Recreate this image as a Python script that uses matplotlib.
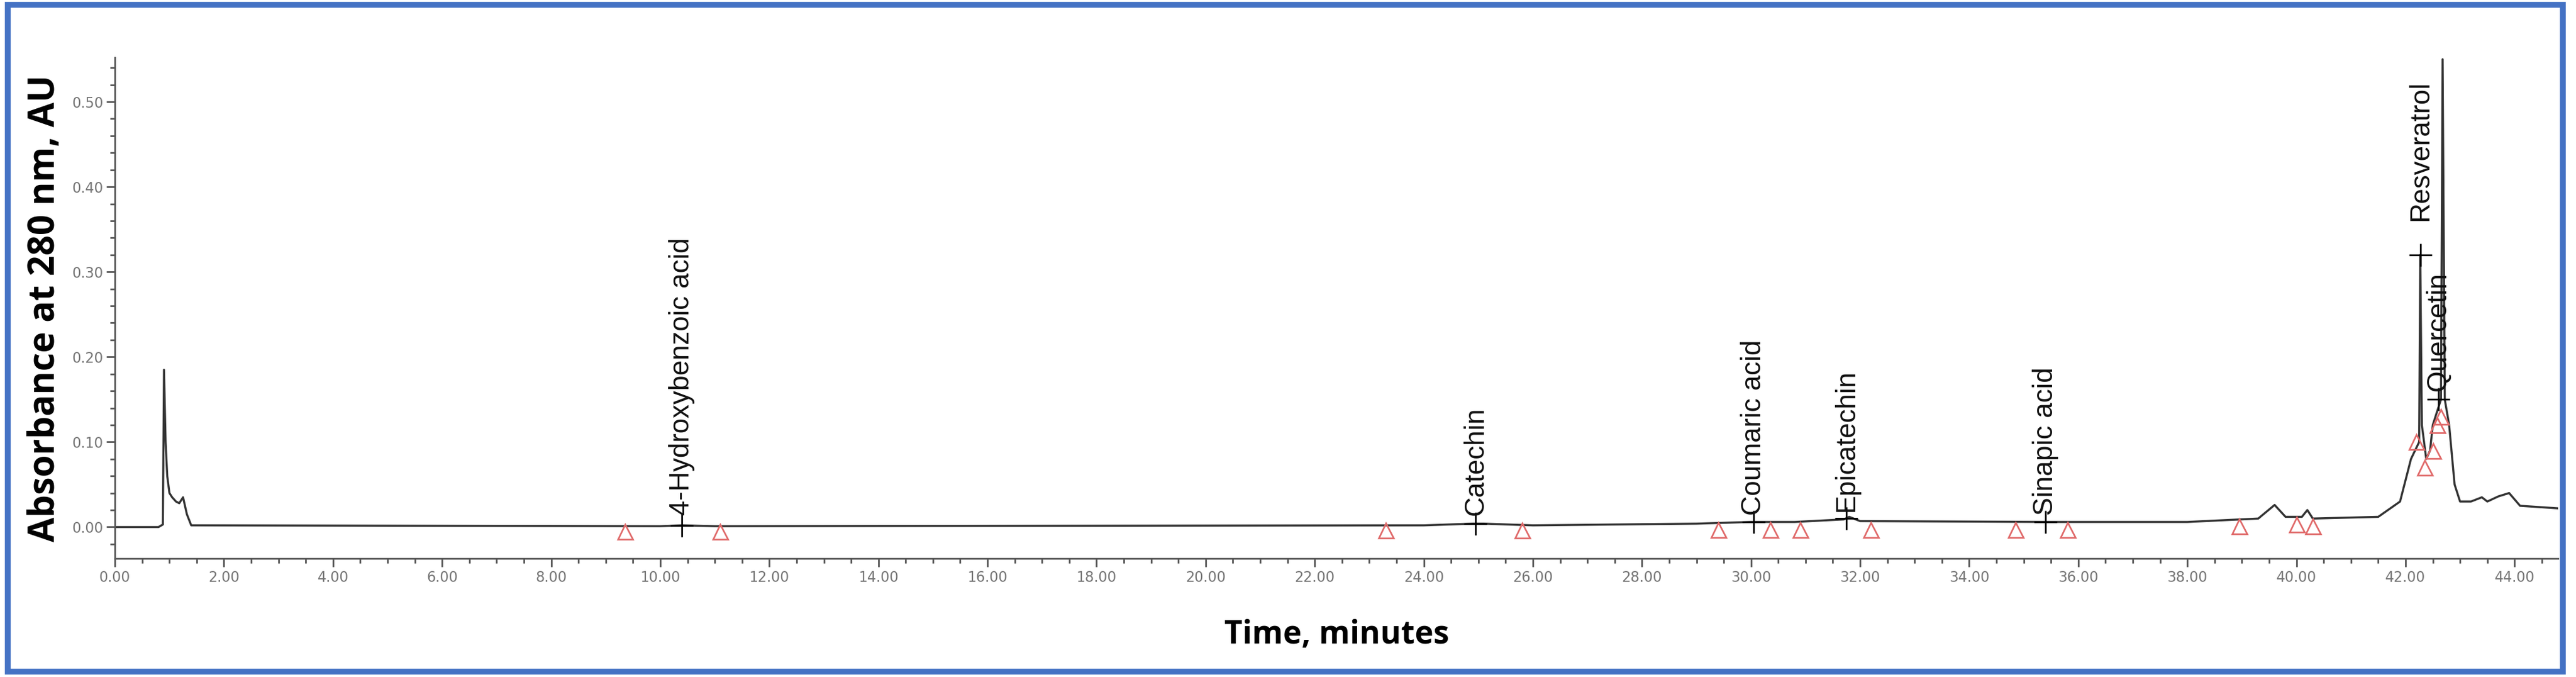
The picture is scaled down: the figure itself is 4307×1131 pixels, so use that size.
import matplotlib
matplotlib.use("Agg")
import matplotlib.pyplot as plt
from matplotlib.patches import Rectangle
from matplotlib.ticker import MultipleLocator

time_min = [0.0, 0.8, 0.88, 0.9, 0.93, 0.96, 1.0, 1.05, 1.12, 1.18, 1.25, 1.32, 1.4,
            10.0, 10.4, 11.0, 24.0, 24.9, 25.1, 26.0, 29.0, 30.0, 30.8, 31.7, 31.8, 32.0,
            35.5, 38.0, 39.3, 39.6, 39.8, 40.1, 40.2, 40.3, 41.5, 41.9, 42.1, 42.25, 42.27,
            42.3, 42.38, 42.45, 42.5, 42.6, 42.65, 42.68, 42.72, 42.8, 42.9, 43.0, 43.2,
            43.4, 43.5, 43.7, 43.9, 44.1, 44.8]
absorbance = [0.0, 0.0, 0.003, 0.185, 0.10, 0.06, 0.04, 0.035, 0.030, 0.028, 0.035, 0.015, 0.002,
              0.001, 0.002, 0.001, 0.002, 0.004, 0.004, 0.002, 0.004, 0.006, 0.006, 0.009, 0.012, 0.007,
              0.006, 0.006, 0.010, 0.026, 0.012, 0.012, 0.020, 0.010, 0.012, 0.030, 0.080, 0.100, 0.320,
              0.120, 0.080, 0.090, 0.120, 0.140, 0.150, 0.550, 0.150, 0.120, 0.050, 0.030, 0.030,
              0.035, 0.030, 0.036, 0.040, 0.025, 0.022]

tri_x = [9.35, 11.1, 23.3, 25.8, 29.4, 30.35, 30.9, 32.2, 34.85, 35.8, 38.95, 40.0, 40.3,
         42.2, 42.35, 42.5, 42.58, 42.65]
tri_y = [-0.005, -0.005, -0.004, -0.004, -0.003, -0.003, -0.003, -0.003, -0.003, -0.003,
         0.001, 0.003, 0.001, 0.10, 0.07, 0.09, 0.12, 0.13]

peak_names = ["4-Hydroxybenzoic acid", "Catechin", "Coumaric acid", "Epicatechin",
              "Sinapic acid", "Resveratrol", "Quercetin"]
peak_x = [10.4, 24.95, 30.05, 31.75, 35.4, 42.28, 42.6]
peak_y = [0.002, 0.004, 0.006, 0.010, 0.006, 0.32, 0.15]
label_y = [0.014, 0.014, 0.014, 0.018, 0.014, 0.36, 0.16]

fig = plt.figure(figsize=(43.07, 11.31), dpi=100)
ax = fig.add_axes([0.0446, 0.175, 0.9485, 0.74])
ax.plot(time_min, absorbance, color="#333333", lw=2.5)
ax.plot(tri_x, tri_y, linestyle="none", marker="^", ms=18, mfc="none", mec="#e06a6a", mew=2)
ax.plot(peak_x, peak_y, linestyle="none", marker="+", ms=28, mew=2, color="black")
for n, x, y in zip(peak_names, peak_x, label_y):
    ax.text(x, y, n, rotation=90, ha="center", va="bottom", fontsize=33,
            family="Liberation Sans", color="#111111")

ax.set_xlim(0, 44.8)
ax.set_ylim(-0.037, 0.552)
ax.xaxis.set_major_locator(MultipleLocator(2))
ax.xaxis.set_minor_locator(MultipleLocator(0.5))
ax.yaxis.set_major_locator(MultipleLocator(0.1))
ax.yaxis.set_minor_locator(MultipleLocator(0.02))
ax.xaxis.set_major_formatter(lambda v, p: f"{v:.2f}")
ax.yaxis.set_major_formatter(lambda v, p: f"{v:.2f}")
for s in ["top", "right"]:
    ax.spines[s].set_visible(False)
for s in ["left", "bottom"]:
    ax.spines[s].set_color("#555555")
    ax.spines[s].set_linewidth(2)
ax.tick_params(which="both", colors="#555555", labelcolor="#777777", labelsize=17, width=2, pad=4)
ax.tick_params(which="major", length=10)
ax.tick_params(which="minor", length=6)
ax.set_xlabel("Time, minutes", fontsize=38, fontweight="bold", family="Open Sans")
ax.xaxis.set_label_coords(0.5, -0.12)
ax.set_ylabel("Absorbance at 280 nm, AU", fontsize=43, fontweight="bold", family="Open Sans")
ax.yaxis.set_label_coords(-0.021, 0.5)

fig.patches.append(Rectangle((0.003, 0.008), 0.992, 0.985, transform=fig.transFigure,
                             fill=False, ec="#4472c4", lw=7))
fig.savefig("out.png", dpi=100)
